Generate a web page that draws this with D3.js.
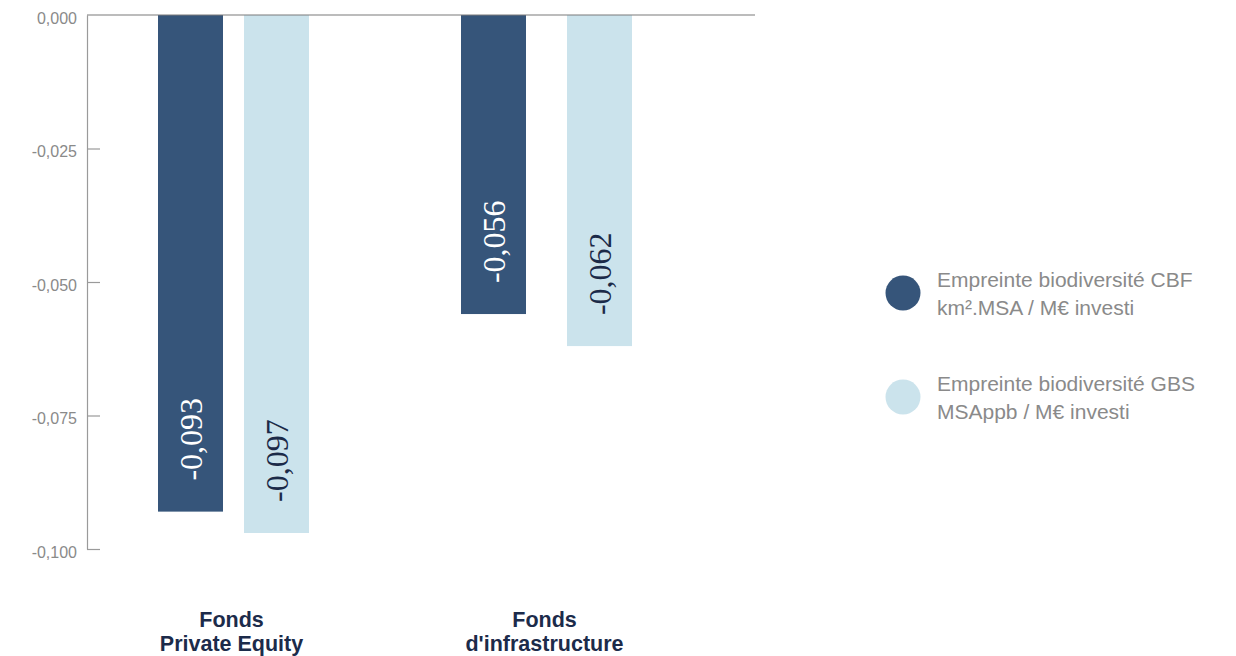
<!DOCTYPE html>
<html>
<head>
<meta charset="utf-8">
<script src="https://cdn.jsdelivr.net/npm/d3@7"></script>
<style>
  html, body { margin: 0; padding: 0; background: #fff; }
  svg { display: block; }
</style>
</head>
<body>
<svg id="chart" width="1236" height="656"></svg>
<script>
// Fund categories and the two biodiversity footprint series
const categories = ["Fonds Private Equity", "Fonds d'infrastructure"];
const categoryLines = [["Fonds", "Private Equity"], ["Fonds", "d'infrastructure"]];
const seriesNames = ["CBF", "GBS"];
const cbfValues = [-0.093, -0.056];
const gbsValues = [-0.097, -0.062];
const tickValues = [0, -0.025, -0.05, -0.075, -0.1];
const legendLabels = [
  ["Empreinte biodiversité CBF", "km².MSA / M€ investi"],
  ["Empreinte biodiversité GBS", "MSAppb / M€ investi"]
];

const colors = { CBF: "#36557a", GBS: "#cbe3ec" };
const labelColors = { CBF: "#ffffff", GBS: "#1b2a48" };
const fmt = v => d3.format(".3f")(v).replace("−", "-").replace(".", ",");
const sans = "'Liberation Sans', Arial, sans-serif";

const svg = d3.select("#chart");

const plotLeft = 87, plotRight = 755, plotTop = 15, plotBottom = 549;

const y = d3.scaleLinear().domain([0, -0.1]).range([plotTop, plotBottom]);
const x0 = d3.scaleBand().domain(categories).range([77, 703]);

// bar width and spacing between the two bars of each group
const barWidth = 65;
const innerGap = { "Fonds Private Equity": 21, "Fonds d'infrastructure": 41 };

const rows = [];
categories.forEach((c, i) => {
  rows.push({ cat: c, series: "CBF", value: cbfValues[i] });
  rows.push({ cat: c, series: "GBS", value: gbsValues[i] });
});
const barX = d => {
  const center = x0(d.cat) + x0.bandwidth() / 2;
  const gap = innerGap[d.cat];
  return d.series === "CBF" ? center - gap / 2 - barWidth : center + gap / 2;
};

// Bars
svg.append("g").selectAll("rect").data(rows).join("rect")
  .attr("x", barX)
  .attr("y", y(0))
  .attr("width", barWidth)
  .attr("height", d => y(d.value) - y(0))
  .attr("fill", d => colors[d.series]);

// Axis
const axis = d3.axisLeft(y).tickValues(tickValues).tickSize(0).tickPadding(10).tickFormat(fmt);
const gAxis = svg.append("g").attr("transform", `translate(${plotLeft},0)`).call(axis);
gAxis.select(".domain").attr("stroke", "#9a9a9a").attr("stroke-width", 1.2);
gAxis.selectAll(".tick text")
  .attr("fill", "#8a8a8a")
  .attr("font-family", sans)
  .attr("font-size", 16)
  .attr("y", 3);
gAxis.selectAll(".tick").filter(d => d !== 0).append("line")
  .attr("x1", 0).attr("x2", 13)
  .attr("stroke", "#9a9a9a").attr("stroke-width", 1.2);

// Zero line across the plot
svg.append("line")
  .attr("x1", plotLeft).attr("x2", plotRight)
  .attr("y1", y(0)).attr("y2", y(0))
  .attr("stroke", "#7a7a7a").attr("stroke-width", 1.2);

// Value labels, rotated inside the bars
svg.append("g").selectAll("text").data(rows).join("text")
  .attr("transform", d => `translate(${barX(d) + barWidth / 2 + 11},${y(d.value) - 31}) rotate(-90)`)
  .attr("text-anchor", "start")
  .attr("fill", d => labelColors[d.series])
  .attr("font-family", "'Liberation Serif', 'Times New Roman', serif")
  .attr("font-size", 32)
  .text(d => fmt(d.value));

// Category labels
const catG = svg.append("g").selectAll("text").data(categories).join("text")
  .attr("text-anchor", "middle")
  .attr("fill", "#1c2b4a")
  .attr("font-family", sans)
  .attr("font-weight", "bold")
  .attr("font-size", 21.5)
  .attr("x", d => x0(d) + x0.bandwidth() / 2 - 2)
  .attr("y", 627);
catG.selectAll("tspan").data((d, i) => categoryLines[i]).join("tspan")
  .attr("x", function () { return d3.select(this.parentNode).attr("x"); })
  .attr("dy", (d, i) => i === 0 ? 0 : 24)
  .text(d => d);

// Legend
const legend = svg.append("g").selectAll("g").data(seriesNames).join("g")
  .attr("transform", (d, i) => `translate(903,${293 + i * 104})`);
legend.append("circle").attr("r", 17.5).attr("fill", d => colors[d]);
const lt = legend.append("text")
  .attr("fill", "#8a8a8a")
  .attr("font-family", sans)
  .attr("font-size", 21)
  .attr("y", -6);
lt.selectAll("tspan").data((d, i) => legendLabels[i]).join("tspan")
  .attr("x", 34)
  .attr("dy", (d, i) => i === 0 ? 0 : 28)
  .text(d => d);
</script>
</body>
</html>
